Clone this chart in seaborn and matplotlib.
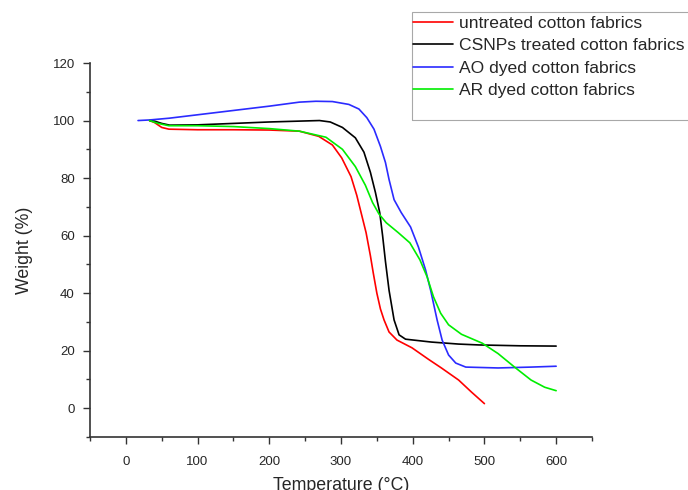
import numpy as np
import pandas as pd
import matplotlib
matplotlib.use("Agg")
import matplotlib.pyplot as plt
import seaborn as sns
from matplotlib.patches import Rectangle
from matplotlib.ticker import MultipleLocator

# ---- data ----
untreated_T = [33, 40, 50, 60, 100, 150, 200, 242, 269, 288, 301, 314, 322, 329, 335, 341, 345, 350, 355, 360, 367, 378, 399, 422, 440, 464, 482, 500]
untreated_W = [100, 99.3, 97.6, 97.0, 96.8, 96.8, 96.7, 96.3, 94.5, 91.5, 87, 80.5, 74, 67, 61, 53, 47, 40, 34.5, 30.7, 26.5, 23.7, 21, 17, 14, 9.8, 5.6, 1.6]

csnps_T = [33, 40, 50, 61, 100, 150, 200, 242, 270, 285, 302, 320, 332, 341, 348, 354, 358, 362, 367, 374, 381, 390, 426, 464, 492, 550, 600]
csnps_W = [100, 99.8, 99.0, 98.4, 98.5, 99.0, 99.5, 99.8, 100, 99.5, 97.6, 94, 89, 82, 75, 68, 60, 51, 41, 30.7, 25.5, 24, 23, 22.3, 22, 21.7, 21.6]

ao_T = [17, 33, 60, 100, 150, 200, 242, 265, 288, 311, 325, 336, 346, 355, 362, 367, 374, 384, 397, 408, 418, 425, 434, 441, 450, 460, 474, 519, 565, 600]
ao_W = [100, 100.2, 100.8, 102, 103.5, 105, 106.4, 106.7, 106.6, 105.6, 104, 101, 97, 91, 85.4, 79.5, 72.5, 68, 63, 56, 48, 41, 30.7, 23.7, 18.5, 15.7, 14.3, 14.0, 14.3, 14.6]

ar_T = [33, 45, 60, 100, 150, 200, 242, 279, 302, 320, 334, 344, 353, 363, 380, 396, 410, 420, 429, 439, 450, 468, 497, 519, 542, 565, 584, 600]
ar_W = [100, 99.0, 98.2, 98.2, 97.9, 97.2, 96.3, 94.2, 90, 84, 77.5, 71.5, 67.5, 64.5, 61, 57.5, 51.6, 45.7, 38.7, 33, 29, 25.7, 22.6, 19, 14.3, 9.8, 7.3, 6.1]

labels = ["untreated cotton fabrics", "CSNPs treated cotton fabrics",
          "AO dyed cotton fabrics", "AR dyed cotton fabrics"]
colors = ["#ff0000", "#000000", "#2b2bff", "#00ee00"]

series = [(untreated_T, untreated_W), (csnps_T, csnps_W), (ao_T, ao_W), (ar_T, ar_W)]
frames = []
for lab, (t, w) in zip(labels, series):
    frames.append(pd.DataFrame({"Temperature": t, "Weight": w, "Sample": lab}))
df = pd.concat(frames, ignore_index=True)

sns.set_style("ticks")
plt.rcParams["font.family"] = ["Liberation Sans", "DejaVu Sans"]

fig = plt.figure(figsize=(6.88, 4.90), dpi=100)
ax = fig.add_axes([90 / 688, 1 - 437 / 490, (592 - 90) / 688, (437 - 63) / 490])

sns.lineplot(data=df, x="Temperature", y="Weight", hue="Sample", hue_order=labels,
             palette=colors, sort=False, estimator=None, lw=1.2, ax=ax, legend=False)

ax.set_xlim(-50, 650)
ax.set_ylim(-10, 120)
ax.xaxis.set_major_locator(MultipleLocator(100))
ax.xaxis.set_minor_locator(MultipleLocator(50))
ax.yaxis.set_major_locator(MultipleLocator(20))
ax.yaxis.set_minor_locator(MultipleLocator(10))
ax.tick_params(which="major", length=5, width=1, color="#333333", labelsize=9.5, pad=6)
ax.tick_params(which="minor", length=3, width=1, color="#333333")
ax.tick_params(axis="x", which="major", pad=9)
for s in ["top", "right"]:
    ax.spines[s].set_visible(False)
for s in ["left", "bottom"]:
    ax.spines[s].set_color("#333333")
    ax.spines[s].set_linewidth(1.2)
ax.set_xlabel("Temperature (°C)", fontsize=12.8, labelpad=6.5)
ax.set_ylabel("Weight (%)", fontsize=12.8, labelpad=14)

handles = [plt.Line2D([], [], color=c, lw=1.2) for c in colors]
fig.legend(handles, labels, loc="upper left", bbox_to_anchor=(411 / 688, 1 - 14 / 490),
           frameon=False, fontsize=12.6, handlelength=2.3, handletextpad=0.34,
           labelspacing=0.41, borderpad=0.1, borderaxespad=0)
fig.patches.append(Rectangle((412 / 688, 1 - 120 / 490), 0.5, 108 / 490,
                             transform=fig.transFigure, fill=False,
                             edgecolor="#a8a8a8", lw=0.8))

fig.savefig("out.png", dpi=100)
